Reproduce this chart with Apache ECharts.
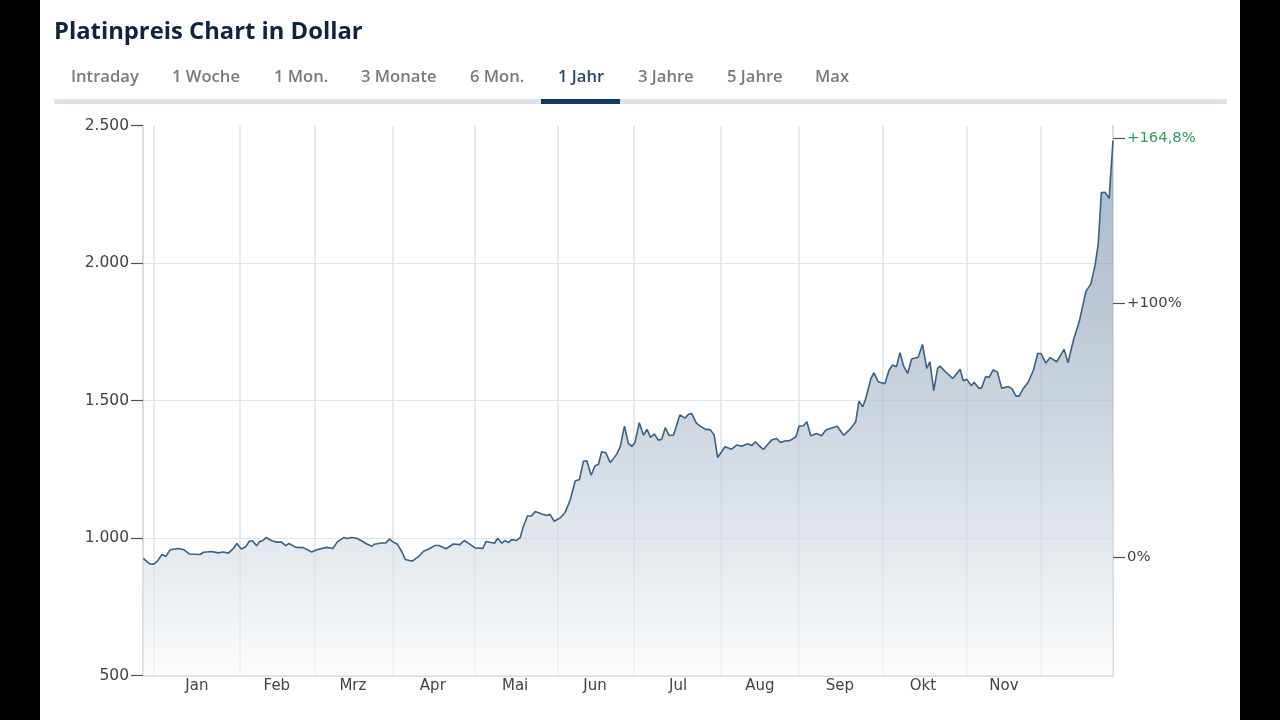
<!DOCTYPE html>
<html><head><meta charset="utf-8">
<style>html,body{margin:0;padding:0;background:#fff}#c{width:1280px;height:720px}</style>
<script src="https://cdn.jsdelivr.net/npm/echarts@6/dist/echarts.min.js"></script>
</head><body><div id="c"></div>
<script>
const titleText = 'Platinpreis Chart in Dollar';
const tabLabels = ['Intraday','1 Woche','1 Mon.','3 Monate','6 Mon.','1 Jahr','3 Jahre','5 Jahre','Max'];
const tabLefts = [71,172,274,361,470,558,638,727,815];
const activeTab = 5;
const monthLabels = ['Jan','Feb','Mrz','Apr','Mai','Jun','Jul','Aug','Sep','Okt','Nov'];
const monthLabelSessions = [13.9,34.5,54.1,74.7,95.9,116.5,137.9,159,179.6,201,221.9];
const monthStartSessions = [2.8,25,44.3,64.4,85.6,107,126.5,149,169,190.6,212.4,231.5];
const priceTicks = [500,1000,1500,2000,2500];
const percentTicks = [0,100,164.8];
const percentLabels = ['0%','+100%','+164,8%'];
const sessions = [0.1,1,1.8,2.8,3.7,4.9,5.9,7,9.1,10.6,11.9,14.7,15.6,17.7,19.4,20.7,22,23.3,24.2,25.3,26.4,27.4,28.2,29.3,30,31,31.7,33.2,34.5,35.7,36.8,37.6,39.4,41.3,43.5,44.8,47.3,48.9,50.1,
51.8,52.5,53.8,55.1,56.4,57.7,59,59.6,61.5,62.6,63.5,64.5,65.6,66.7,67.6,68.4,69.4,71,72.3,73.8,75.3,76.3,78.1,80,81.7,82.8,84.3,85.6,87.6,88.4,90.6,91.4,92.5,93.3,94.2,95,96.3,97.2,98,99.1,100.1,101.1,102.8,104.1,104.9,106,107.5,108.8,110.1,
111.4,112.5,113.5,114.4,115.5,116.5,117.4,118.2,119.3,120.4,122.1,123,124.1,125.1,126,126.8,127.9,129,129.9,130.8,131.8,132.8,133.7,134.6,135.6,136.7,138.4,139.7,140.6,141.4,142.6,143.6,145,146.2,147.2,148.1,150,151.7,153,154.3,155.8,156.9,157.8,159,
159.9,161.1,162,163.3,164.3,165.4,166.7,168.3,169.1,170.2,171.1,172.1,173.6,174.9,176,177.5,178.9,180.6,182.2,183.7,184.5,185.5,186.3,187.6,188.4,189.5,191.2,192.3,193.2,194.2,195.1,196.1,197.1,198.1,199.8,200.9,202,202.8,203.8,204.8,205.4,
207,208.7,210.6,211.4,212.3,213.5,214.2,215.4,216.1,217.2,218.1,219.1,220.2,221.3,223,223.9,225,225.8,226.9,228.2,229.5,230.6,231.4,232.7,233.8,235.5,237.4,238.4,239.8,241.3,243,244.3,245.4,246.2,247,248,249,250];
const prices = [926,914,906,905,916,940,933,957,962,957,942,940,948,951,946,949,945,962,980,960,967,988,990,972,986,992,1002,990,985,985,972,980,966,965,949,957,966,962,986,
1002,998,1002,999,989,978,970,977,982,982,996,985,977,950,922,919,916,932,952,961,973,973,961,978,976,991,977,964,962,987,981,999,981,991,983,994,991,1001,1041,1080,1080,1096,1087,1082,1086,1061,1073,1093,1138,
1207,1213,1279,1281,1228,1263,1268,1314,1310,1274,1305,1332,1407,1344,1333,1347,1419,1374,1395,1366,1378,1356,1359,1401,1373,1374,1448,1436,1450,1453,1419,1407,1395,1394,1374,1293,1332,1323,1338,1334,1343,1336,1350,1333,
1322,1342,1356,1362,1347,1353,1354,1368,1407,1408,1423,1372,1380,1372,1393,1400,1406,1374,1395,1423,1497,1477,1508,1580,1601,1568,1561,1611,1629,1623,1674,1623,1599,1651,1657,1704,1617,1641,1536,1617,1625,
1602,1580,1614,1572,1577,1554,1566,1545,1545,1587,1584,1611,1604,1545,1550,1544,1516,1516,1544,1568,1611,1671,1671,1636,1656,1641,1686,1637,1720,1787,1896,1924,1993,2071,2256,2257,2235,2445];

const gridLine = '#dfe4ea', axisLine = '#ced3da', tickDark = '#555', labelColor = '#444';
const axisFont = '"DejaVu Sans"';

const tabs = tabLabels.map((t,i)=>({
  type:'text', left:tabLefts[i], top:69,
  style:{text:t, font:'600 16.6px "Open Sans"', fill:i===activeTab?'#2b4a6b':'#7a7a7a'}
}));
const chart = echarts.init(document.getElementById('c'),null,{renderer:'canvas'});
chart.setOption({
  animation:false, backgroundColor:'#fff',
  grid:{left:143,right:167,top:125.5,bottom:44.5},
  xAxis:{type:'value',min:0,max:250,
    axisLine:{show:true,onZero:false,lineStyle:{color:axisLine,width:1.5}},
    axisTick:{show:false,customValues:monthStartSessions},
    splitLine:{show:true,lineStyle:{color:gridLine,width:1.5}},
    axisLabel:{customValues:monthLabelSessions,margin:3,color:labelColor,fontFamily:axisFont,fontSize:15,
      formatter:v=>monthLabels[monthLabelSessions.indexOf(v)]||''}
  },
  yAxis:[{type:'value',min:500,max:2500,interval:500,
    axisLine:{show:true,lineStyle:{color:axisLine,width:1.5}},
    axisTick:{show:true,length:12,lineStyle:{color:tickDark,width:1.2}},
    splitLine:{show:true,showMaxLine:false,showMinLine:false,lineStyle:{color:gridLine,width:1.2}},
    axisLabel:{margin:14,color:labelColor,fontFamily:axisFont,fontSize:15.5,customValues:priceTicks,
      formatter:v=>String(v).replace(/(\d)(\d{3})$/,'$1.$2')}
  },{type:'value',position:'right',min:-46.65,max:169.9,
    axisLine:{show:true,lineStyle:{color:axisLine,width:1.5}},
    axisTick:{show:true,length:12,customValues:percentTicks,lineStyle:{color:tickDark,width:1.2}},
    splitLine:{show:false},
    axisLabel:{margin:14,fontFamily:axisFont,fontSize:14.8,customValues:percentTicks,
      color:v=>v>101?'#2e9e5b':labelColor,
      formatter:v=>percentLabels[percentTicks.indexOf(v)]||''}
  }],
  series:[{type:'line',yAxisIndex:0,showSymbol:false,smooth:false,z:3,
    data:sessions.map((s,i)=>[s,prices[i]]),
    lineStyle:{color:'#3a6186',width:1.6},
    areaStyle:{color:new echarts.graphic.LinearGradient(0,0,0,1,[
      {offset:0,color:'rgba(118,144,170,0.9)'},
      {offset:0.3,color:'rgba(146,167,187,0.9)'},
      {offset:0.58,color:'rgba(184,197,210,0.9)'},
      {offset:0.78,color:'rgba(214,222,230,0.9)'},
      {offset:1,color:'rgba(250,251,252,0.9)'}])}
  }],
  graphic:[
    {type:'rect',left:0,top:0,shape:{width:40,height:720},style:{fill:'#000'},z:100},
    {type:'rect',left:1240,top:0,shape:{width:40,height:720},style:{fill:'#000'},z:100},
    {type:'text',left:54,top:20,style:{text:titleText,font:'700 23.8px "Open Sans"',fill:'#10233f'}},
    ...tabs,
    {type:'rect',left:54,top:99,shape:{width:1173,height:5},style:{fill:'#dfe2e8'}},
    {type:'rect',left:541,top:99,shape:{width:79,height:5},style:{fill:'#0f3b66'},z:5}
  ]
});
</script></body></html>
